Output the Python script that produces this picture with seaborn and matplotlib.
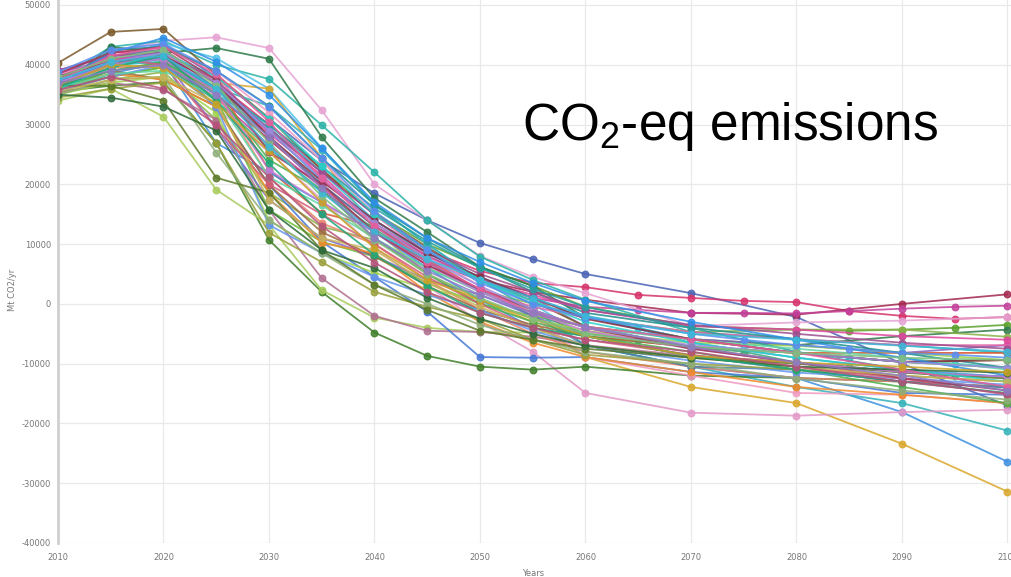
import numpy as np
import pandas as pd
import matplotlib
matplotlib.use("Agg")
import matplotlib.pyplot as plt
from matplotlib.colors import to_rgba
import seaborn as sns

# Model years (5-year steps; None = no value reported for that year)
years = [2010, 2015, 2020, 2025, 2030, 2035, 2040, 2045, 2050, 2055,
         2060, 2065, 2070, 2075, 2080, 2085, 2090, 2095, 2100]
N = None

# Scenario pathways, CO2-eq emissions in Gt CO2/yr
s01 = [36.5, 41.0, 43.5, 38.0, 31.0, 24.0, 18.5, 14.0, 10.2, 7.5, 5.0, N, 1.8, N, -2.2, N, -10.0, N, -17.0]
s02 = [38.5, 42.0, 42.5, 37.0, 30.0, 22.5, 15.0, 9.0, 5.5, 3.5, 2.8, 1.5, 1.0, 0.5, 0.3, -1.2, -2.0, -2.5, -2.2]
s03 = [37.0, 40.0, 41.0, 35.0, 27.5, 20.0, 13.0, 8.0, 4.0, 2.0, 0.7, N, -1.5, N, -1.8, N, 0.0, N, 1.6]
s04 = [39.0, 41.5, 40.0, 34.5, 26.5, 19.5, 12.0, 7.0, 4.0, 1.0, -0.5, -1.0, -1.5, -1.5, -1.6, -1.2, -0.8, -0.5, -0.3]
s05 = [38.0, 42.0, 44.0, 44.6, 42.8, 32.4, 20.0, 14.0, 8.0, 4.5, 1.8, N, -3.7, N, -3.1, N, -2.8, N, -2.2]
s06 = [35.5, 38.0, 39.6, 36.0, 29.4, 22.0, 15.2, 10.0, 6.2, 3.0, -0.5, N, -3.7, N, -4.3, -4.5, -4.3, -4.0, -3.5]
s07 = [37.5, 43.0, 44.0, 40.0, 37.6, 29.9, 22.0, 14.0, 7.9, 4.0, 0.7, N, -4.7, N, -5.9, N, -6.9, N, -8.2]
s08 = [36.0, 43.0, 42.0, 42.8, 41.0, 27.9, 17.7, 12.0, 6.2, 3.0, -2.3, N, -5.9, N, -6.9, N, -5.4, N, -4.3]
s09 = [35.0, 37.5, 38.8, 30.8, 18.6, 12.9, 10.7, 6.0, 2.3, 0.0, -2.3, N, -4.7, N, -4.3, N, -4.3, N, -5.5]
s10 = [38.5, 41.0, 41.5, 36.1, 29.4, 22.0, 14.9, 8.5, 4.0, 1.0, -3.8, N, -5.9, N, -6.9, N, -8.2, N, -6.9]
s11 = [40.3, 45.5, 46.0, 38.3, 31.1, 22.4, 15.0, 9.5, 4.0, 0.5, -3.8, N, -7.2, N, -8.2, N, -9.7, N, -9.4]
s12 = [37.8, 40.0, 42.0, 37.0, 22.4, 15.2, 13.0, 7.5, 2.3, -1.0, -5.4, N, -7.2, N, -8.2, N, -8.2, N, -8.2]
s13 = [36.3, 41.1, 43.6, 41.1, 36.0, 26.1, 16.6, 10.0, 4.0, 0.0, -5.4, N, -8.7, N, -9.8, N, -11.4, N, -12.2]
s14 = [36.0, 39.6, 42.0, 37.0, 36.0, 24.4, 12.4, 5.0, 0.7, -3.0, -8.9, N, -13.9, N, -16.6, N, -23.4, N, -31.4]
s15 = [35.3, 38.5, 40.5, 26.9, 22.0, 17.0, 12.0, 6.0, 0.7, -4.0, -6.9, N, -10.5, N, -12.4, N, -18.1, N, -26.4]
s16 = [36.5, 40.0, 40.5, 36.1, 33.1, 25.8, 16.6, 10.0, 4.0, -1.0, -6.9, N, -10.5, N, -13.9, N, -16.6, N, -21.2]
s17 = [37.0, 40.0, 41.0, 32.8, 25.4, 17.4, 9.4, 3.0, -3.0, -8.0, -14.9, N, -18.2, N, -18.7, N, -18.1, N, -17.7]
s18 = [35.5, 36.5, 37.1, 26.9, 10.7, 2.0, -4.8, -8.7, -10.5, -11.0, -10.5, N, -12.0, N, -12.4, N, -13.0, N, -13.9]
s19 = [34.0, 36.0, 31.3, 19.1, 13.2, 2.3, -2.3, -4.0, -4.7, -4.8, -4.7, N, -7.2, N, -8.2, N, -9.7, N, -10.7]
s20 = [35.3, 37.0, 35.8, 30.8, 15.7, 4.3, -2.0, -4.5, -4.7, -5.5, -6.9, N, -8.7, N, -9.8, N, -11.4, N, -12.2]
s21 = [38.0, 41.0, 42.0, 32.8, 19.9, 10.4, 4.5, -1.3, -8.9, -9.0, -8.9, N, -11.4, N, -12.4, N, -14.9, N, -15.2]
s22 = [36.3, 38.0, 39.6, 34.4, 15.7, 10.4, 7.9, 3.5, 0.0, -2.0, -3.8, N, -5.9, N, -8.2, N, -9.7, N, -10.7]
s23 = [38.5, 40.5, 41.1, 38.3, 27.9, 19.6, 12.0, 6.5, 2.3, -0.5, -2.3, N, -4.7, N, -5.9, N, -6.9, N, -6.9]
s24 = [37.0, 40.0, 40.5, 35.0, 30.0, 22.0, 14.0, 8.0, 4.0, 0.0, -2.0, -4.0, -6.0, -7.0, -8.2, -9.0, -9.7, -10.0, -10.7]
s25 = [36.8, 40.5, 41.0, 29.4, 17.4, 11.0, 8.0, 4.0, 1.5, -2.0, -5.4, N, -8.7, N, -11.0, N, -13.0, N, -13.9]
s26 = [35.8, 39.0, 40.0, 34.0, 26.0, 19.0, 12.5, 7.0, 2.0, -1.5, -5.0, -6.0, -7.2, -8.0, -9.8, -10.5, -11.4, -12.0, -12.2]
s27 = [38.2, 41.0, 43.0, 39.0, 32.0, 24.0, 15.0, 8.0, 3.0, -2.0, -8.9, N, -12.0, N, -14.9, N, -15.2, N, -16.6]
s28 = [37.2, 39.5, 40.0, 35.5, 21.2, 13.5, 10.0, 4.0, -1.0, -5.0, -8.0, N, -10.5, N, -12.4, N, -13.0, N, -13.9]
s29 = [36.5, 39.0, 37.5, 33.0, 19.9, 12.0, 8.0, 3.0, -1.0, -3.5, -5.4, N, -7.2, N, -9.8, N, -11.4, N, -12.2]
s30 = [37.5, 41.5, 42.5, 36.0, 28.0, 20.0, 13.0, 7.0, 2.3, -2.0, -6.9, N, -10.5, N, -11.0, N, -13.0, N, -14.0]
s31 = [35.0, 37.0, 38.0, 32.0, 14.0, 8.5, 5.2, 2.5, 0.7, -2.5, -4.5, N, -6.5, N, -7.0, N, -8.2, N, -9.4]
s32 = [36.0, 42.5, 43.0, 39.0, 33.1, 24.4, 16.6, 11.0, 6.2, 2.0, -1.5, N, -4.0, N, -5.9, N, -8.2, N, -10.7]
s33 = [38.0, 41.0, 41.5, 37.0, 28.5, 21.5, 13.5, 8.0, 4.0, 1.5, -1.0, N, -3.7, N, -4.3, N, -5.4, N, -6.0]
s34 = [36.3, 38.5, 37.5, 33.0, 18.6, 10.2, 8.5, 2.0, -3.0, -6.5, -8.9, N, -11.4, N, -13.9, N, -15.2, N, -16.6]
s35 = [37.0, 40.5, 41.0, 36.0, 29.0, 20.7, 14.0, 8.5, 4.5, 1.0, -2.0, N, -6.5, N, -9.0, N, -11.0, N, -12.2]
s36 = [36.0, 39.0, 40.5, 35.5, 24.1, 19.0, 11.0, 5.0, 0.0, -3.0, -5.4, N, -8.0, N, -11.0, N, -13.9, N, -16.6]
s37 = [39.1, 41.5, 42.0, 37.5, 29.0, 22.0, 15.0, 9.0, 5.0, 2.0, -1.0, N, -3.5, N, -5.0, N, -6.5, N, -7.5]
s38 = [36.8, 40.0, 41.0, 36.1, 30.0, 23.0, 16.0, 10.5, 6.0, 2.5, -0.5, N, -4.0, N, -8.0, N, -11.0, N, -14.0]
s39 = [35.5, 38.0, 40.0, 33.0, 13.2, 8.5, 4.5, 1.5, -1.0, -4.5, -7.0, N, -9.5, N, -11.5, N, -12.5, N, -13.5]
s40 = [34.5, 36.0, 37.0, 26.9, 11.9, 7.0, 2.0, -0.5, -2.5, -6.0, -8.5, N, -10.0, N, -11.0, N, -12.0, N, -13.0]
s41 = [37.5, 41.0, 40.0, 29.4, 20.0, 15.0, 10.0, 4.5, 0.0, -4.0, -6.0, N, -8.5, N, -10.5, N, -12.5, N, -15.2]
s42 = [36.0, 38.5, 39.0, 34.5, 21.2, 16.5, 11.0, 6.0, 2.0, -1.0, -4.0, N, -6.0, N, -7.5, N, -9.0, N, -11.0]
s43 = [38.0, 40.5, 41.5, 37.0, 28.0, 20.5, 14.0, 8.5, 4.5, 1.0, -2.5, N, -5.9, N, -8.2, N, -9.7, N, -9.4]
s44 = [37.0, 42.0, 44.5, 40.5, 35.0, 26.0, 17.0, 11.0, 7.0, 3.5, 0.5, N, -3.0, N, -6.0, N, -9.0, N, -12.0]
s45 = [35.0, 37.5, 38.0, 25.3, 14.0, 8.5, 3.2, 0.0, -3.5, -6.0, -8.0, N, -10.0, N, -12.5, N, -14.5, N, -16.0]
s46 = [36.5, 36.5, 34.0, 21.1, 18.6, 9.0, 3.2, -1.0, -4.5, -6.0, -7.5, N, -9.0, N, -10.0, N, -11.5, N, -12.5]
s47 = [37.0, 40.0, 41.0, 35.5, 22.4, 17.0, 12.0, 6.5, 2.0, -1.5, -4.5, N, -7.5, N, -9.8, N, -11.4, N, -12.2]
s48 = [36.0, 39.5, 42.0, 38.0, 31.0, 23.0, 15.0, 9.0, 4.0, 0.5, -3.0, N, -6.5, N, -9.0, N, -11.0, N, -13.0]
s49 = [38.5, 42.0, 43.0, 37.5, 25.4, 20.0, 12.0, 6.5, 2.5, -1.0, -4.0, N, -7.5, N, -9.8, N, -12.4, N, -14.5]
s50 = [35.5, 37.5, 38.0, 33.5, 17.4, 11.0, 9.0, 3.5, -0.5, -4.0, -7.0, N, -9.0, N, -10.5, N, -12.0, N, -13.0]
s51 = [37.5, 40.5, 42.0, 37.0, 29.0, 21.0, 13.5, 7.5, 3.0, -1.0, -4.0, N, -6.9, N, -8.2, N, -9.7, N, -10.7]
s52 = [35.0, 34.5, 33.0, 29.0, 15.7, 9.0, 6.0, 1.0, -2.5, -5.0, -7.0, N, -9.0, N, -10.5, N, -11.0, N, -11.5]
s53 = [37.3, 41.5, 43.0, 38.5, 30.5, 21.0, 13.0, 7.0, 2.5, -1.5, -3.8, N, -5.9, N, -8.2, N, -11.0, N, -13.9]
s54 = [36.2, 39.5, 41.5, 34.0, 23.5, 15.0, 8.2, 3.0, -1.5, -4.0, -5.4, N, -8.7, N, -11.0, N, -13.0, N, -14.9]
s55 = [38.8, 42.5, 43.5, 39.0, 33.0, 24.4, 15.5, 9.0, 3.5, 0.0, -2.3, N, -5.0, -6.0, -6.9, -7.5, -8.2, -8.5, -9.0]
s56 = [36.6, 40.0, 39.5, 33.5, 25.5, 17.0, 9.4, 4.0, 0.7, -2.5, -5.4, N, -8.7, N, -9.8, N, -10.5, N, -11.4]
s57 = [37.9, 41.0, 42.5, 36.5, 27.0, 18.0, 10.7, 5.0, 1.0, -2.5, -5.0, N, -7.2, N, -8.2, N, -9.0, N, -9.4]
s58 = [35.8, 38.0, 36.0, 30.0, 21.2, 13.0, 6.9, 2.0, -1.5, -4.0, -6.0, N, -8.0, N, -10.5, N, -13.0, N, -15.0]
s59 = [37.4, 40.5, 41.5, 36.0, 26.3, 18.6, 12.0, 7.5, 4.0, 1.0, -2.0, N, -5.0, N, -6.0, N, -7.0, N, -8.0]
s60 = [36.9, 39.0, 40.0, 35.0, 28.0, 19.4, 11.0, 5.5, 1.5, -1.5, -3.8, N, -7.2, N, -9.8, N, -12.0, N, -14.5]

scenarios = [s01, s02, s03, s04, s05, s06, s07, s08, s09, s10, s11, s12, s13,
             s14, s15, s16, s17, s18, s19, s20, s21, s22, s23, s24, s25, s26,
             s27, s28, s29, s30, s31, s32, s33, s34, s35, s36, s37, s38, s39,
             s40, s41, s42, s43, s44, s45, s46, s47, s48, s49, s50, s51, s52,
             s53, s54, s55, s56, s57, s58, s59, s60]

colors = ["#4a64b5", "#d6336c", "#a3284e", "#c2409a", "#e6a3d3", "#5aa02c",
          "#2bb3a8", "#2f7a4a", "#8ab34a", "#8a5fb8", "#7a5a2a", "#d9532c",
          "#4fc1e8", "#d9a72b", "#3d8fe0", "#33b2b8", "#e39ac8", "#3f7f2a",
          "#a8cc5c", "#b07090", "#4577d6", "#6cbf3a", "#e066a8", "#36c2d0",
          "#7b68c9", "#3ea679", "#f09ac0", "#e8826a", "#9c6b3c", "#4f7fa8",
          "#9ed44a", "#1f8f8a", "#e0479e", "#f08a2c", "#3aa0e0", "#4cae4c",
          "#9d4f8f", "#27a0a0", "#6495ed", "#9aa03a", "#d45c7a", "#5fd6a6",
          "#8c2f3f", "#2f8fe8", "#8fae7a", "#5c7a2a", "#c77ad6", "#2ad0c8",
          "#a33a5a", "#c8b45a", "#a08ce0", "#2e6b3a", "#e85d9c", "#1fa67a",
          "#5b8def", "#c9a227", "#7fbf7f", "#b5527a", "#3cb8d8", "#8e7cc3"]

records = []
for i, series in enumerate(scenarios):
    for yr, v in zip(years, series):
        if v is not None:
            records.append({"scenario": f"S{i + 1:02d}", "year": yr,
                            "value": v * 1000.0})
df = pd.DataFrame(records)
palette = {f"S{i + 1:02d}": colors[i] for i in range(len(scenarios))}

sns.set_style("white")
plt.rcParams["font.family"] = ["DejaVu Sans"]
plt.rcParams["mathtext.fontset"] = "custom"
plt.rcParams["mathtext.rm"] = "Liberation Sans"

fig = plt.figure(figsize=(10.12, 5.77), dpi=100)
ax = fig.add_axes([58 / 1012, 1 - 543 / 577, (1012 - 58) / 1012, 543 / 577])

sns.lineplot(data=df, x="year", y="value", hue="scenario", palette=palette,
             estimator=None, marker="o", markersize=4.8, linewidth=1.3,
             markeredgewidth=0.9, alpha=0.85, legend=False, ax=ax)

# circles outlined in the line colour with a slightly translucent fill
for ln in ax.lines:
    c = ln.get_color()
    ln.set_markeredgecolor(c)
    ln.set_markerfacecolor(to_rgba(c, 0.65))

ax.set_xlim(2010, 2100.43)
ax.set_ylim(-40000, 50836)
ax.set_xticks(range(2010, 2101, 10))
ax.set_yticks(range(-40000, 50001, 10000))
ax.set_yticklabels([str(v) for v in range(-40000, 50001, 10000)])
ax.grid(True, color="#e9e9e9", linewidth=0.9)
ax.set_axisbelow(True)
for side in ["top", "right", "bottom"]:
    ax.spines[side].set_visible(False)
ax.spines["left"].set_color("#d0d0d0")
ax.spines["left"].set_linewidth(2)
ax.tick_params(axis="both", length=0, labelsize=6, labelcolor="#777777")
ax.tick_params(axis="y", pad=5)
ax.tick_params(axis="x", pad=7)
ax.set_xlabel("")
ax.set_ylabel("")

fig.text(13 / 1012, 1 - 290 / 577, "Mt CO2/yr", rotation=90, fontsize=6,
         color="#777777", ha="center", va="center")
fig.text(533 / 1012, 1 - 573 / 577, "Years", fontsize=6, color="#777777",
         ha="center", va="center")

fig.text(522 / 1012, 1 - 140 / 577, r"CO$_\mathregular{2}$-eq emissions",
         fontsize=37, family="Liberation Sans", color="black",
         ha="left", va="baseline")

fig.savefig("out.png", dpi=100)
